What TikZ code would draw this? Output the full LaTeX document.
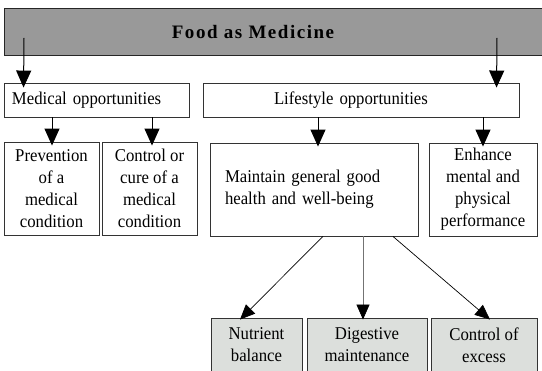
\documentclass[tikz,border=0pt]{standalone}
\usepackage{fontspec}
\setmainfont{Liberation Serif}
\newfontfamily\boxfont[FakeStretch=0.93]{Liberation Serif}
\usetikzlibrary{arrows.meta}
\definecolor{bargray}{RGB}{153,153,153}
\definecolor{leafgray}{RGB}{220,223,220}
\begin{document}
\begin{tikzpicture}[x=1pt,y=-1pt,
    box/.style={draw=black!80,line width=0.9pt,inner sep=0pt,align=center,
      font=\boxfont\fontsize{18}{22}\selectfont},
    leaf/.style={box,fill=leafgray,minimum height=54pt},
    arr/.style={-{Triangle[width=15pt,length=17pt]},line width=1pt},
    sub/.style={-{Triangle[width=13pt,length=15pt,color=black]},line width=0.7pt}]
  \useasboundingbox (0,0) rectangle (542,371);
  \clip (0,0) rectangle (542,371);
  % top bar
  \node[draw=black!85,fill=bargray,line width=1.2pt,minimum width=580pt,
    minimum height=47pt,anchor=north west] (bar) at (4,8) {};
  \node[font=\fontsize{19}{22}\selectfont\bfseries\addfontfeature{LetterSpace=8}]
    (title) at (253,32) {Food as Medicine};
  % second row
  \node[box,minimum width=185pt,minimum height=34pt,text width=169pt,align=left]
    (med) at (96.5,100) {Medical opportunities};
  \node[box,minimum width=316pt,minimum height=34pt,text width=174pt,align=left]
    (life) at (361,100) {Lifestyle opportunities};
  % third row
  \node[box,minimum width=95pt,minimum height=93pt] (prev) at (51.5,188.5)
    {Prevention\\of a\\medical\\condition};
  \node[box,minimum width=95pt,minimum height=93pt] (ctrl) at (149.5,188.5)
    {Control or\\cure of a\\medical\\condition};
  \node[box,minimum width=208pt,minimum height=93pt,text width=178pt,align=left]
    (maint) at (314,189.5) {Maintain general good\\health and well-being};
  \node[box,minimum width=108pt,minimum height=93pt] (enh) at (483,189.5)
    {Enhance\\mental and\\physical\\performance};
  % bottom row
  \node[leaf,minimum width=91pt] (nut) at (256.5,345) {Nutrient\\balance};
  \node[leaf,minimum width=120pt] (dig) at (367,345) {Digestive\\maintenance};
  \node[leaf,minimum width=106pt] (exc) at (484,345) {Control of\\excess};
  % arrows
  \draw[arr] ([shift={(20,30)}]bar.north west) -- ([shift={(20,5)}]med.north west);
  \draw[arr] ([shift={(493,30)}]bar.north west) -- ([shift={(294,5)}]life.north west);
  \draw[arr] ([xshift=0.5pt]prev.north |- med.south) -- ([shift={(0.5,4)}]prev.north);
  \draw[arr] ([xshift=2.5pt]ctrl.north |- med.south) -- ([shift={(2.5,4)}]ctrl.north);
  \draw[arr] ([xshift=4pt]maint.north |- life.south) -- ([shift={(4,4)}]maint.north);
  \draw[arr] (enh.north |- life.south) -- ([yshift=-4pt]enh.north);
  \draw[sub] ([xshift=9pt]maint.south) -- ([shift={(-16.5,2)}]nut.north);
  \draw[sub,draw=black!55] ([xshift=49pt]maint.south) -- ([shift={(-4,2)}]dig.north);
  \draw[sub] ([xshift=79pt]maint.south) -- ([shift={(6,2)}]exc.north);
\end{tikzpicture}
\end{document}
